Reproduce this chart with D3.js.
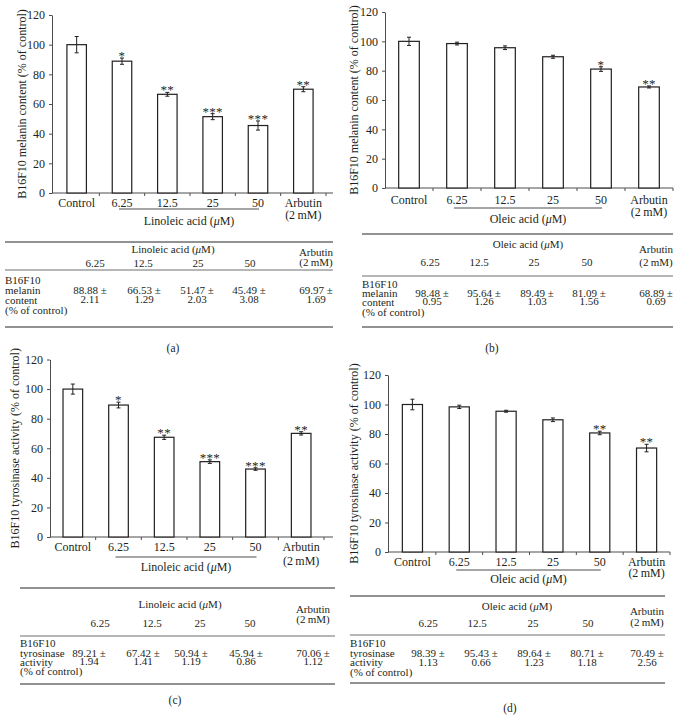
<!DOCTYPE html>
<html><head><meta charset="utf-8">
<script src="https://cdn.jsdelivr.net/npm/d3@7"></script>
<style>
html,body{margin:0;padding:0;background:#fff;}
svg text{font-family:"Liberation Serif","Times New Roman",serif;fill:#231f20;}
</style></head>
<body>
<svg id="fig" width="681" height="721"></svg>
<script>
// ---------------- DATA ----------------
const categories = ["Control", "6.25", "12.5", "25", "50", "Arbutin"];
const concLabels = ["6.25", "12.5", "25", "50"];
const yTicks = [0, 20, 40, 60, 80, 100, 120];

const melaninLinoleic    = [100, 88.88, 66.53, 51.47, 45.49, 69.97];
const melaninLinoleicErr = [5.5, 2.11, 1.29, 2.03, 3.08, 1.69];
const melaninLinoleicSig = ["", "*", "**", "***", "***", "**"];

const melaninOleic    = [100, 98.48, 95.64, 89.49, 81.09, 68.89];
const melaninOleicErr = [2.8, 0.95, 1.26, 1.03, 1.56, 0.69];
const melaninOleicSig = ["", "", "", "", "*", "**"];

const tyrosinaseLinoleic    = [100, 89.21, 67.42, 50.94, 45.94, 70.06];
const tyrosinaseLinoleicErr = [3.4, 1.94, 1.41, 1.19, 0.86, 1.12];
const tyrosinaseLinoleicSig = ["", "*", "**", "***", "***", "**"];

const tyrosinaseOleic    = [100, 98.39, 95.43, 89.64, 80.71, 70.49];
const tyrosinaseOleicErr = [3.6, 1.13, 0.66, 1.23, 1.18, 2.56];
const tyrosinaseOleicSig = ["", "", "", "", "**", "**"];

// ---------------- PANELS ----------------
const panels = [
  { caption: "(a)", acid: "Linoleic acid", yTitle: "B16F10 melanin content (% of control)",
    rowLabel: ["B16F10", "melanin", "content", "(% of control)"],
    values: melaninLinoleic, err: melaninLinoleicErr, sig: melaninLinoleicSig,
    L: { yAxisX: 52, x0: 54, x1: 326, axisEnd: 333, y0: 193, y120: 15, titleX: 22,
         lab: 10, lab2: 22, br: 16, grp: 28 },
    T: { lineX: [5, 333], top: 242, grp: 249, arb: 252, arb2: 262, hdr: 263, mid: 270,
         rows: [280, 290, 300, 310], vals: [290, 299], bot: 327, capX: 173, capY: 348,
         grpX: 173, hdrX: [95, 143, 198, 250], valX: [90, 144, 197, 249, 316], arbX: 316 } },
  { caption: "(b)", acid: "Oleic acid", yTitle: "B16F10 melanin content (% of control)",
    rowLabel: ["B16F10", "melanin", "content", "(% of control)"],
    values: melaninOleic, err: melaninOleicErr, sig: melaninOleicSig,
    L: { yAxisX: 385, x0: 385, x1: 673, axisEnd: 673, y0: 188, y120: 12, titleX: 354,
         lab: 12, lab2: 24, br: 20, grp: 31 },
    T: { lineX: [362, 673], top: 234, grp: 244, arb: 249, arb2: 262, hdr: 262, mid: 276,
         rows: [284, 293, 302, 312], vals: [293, 301], bot: 327, capX: 492, capY: 348,
         grpX: 528, hdrX: [430, 479, 534, 587], valX: [432, 484, 537, 589, 656], arbX: 656 } },
  { caption: "(c)", acid: "Linoleic acid", yTitle: "B16F10 tyrosinase activity (% of control)",
    rowLabel: ["B16F10", "tyrosinase", "activity", "(% of control)"],
    values: tyrosinaseLinoleic, err: tyrosinaseLinoleicErr, sig: tyrosinaseLinoleicSig,
    L: { yAxisX: 50, x0: 50, x1: 324, axisEnd: 333, y0: 537, y120: 359.5, titleX: 15,
         lab: 10, lab2: 24, br: 20, grp: 30 },
    T: { lineX: [20, 335], top: 588, grp: 604, arb: 609, arb2: 619, hdr: 623, mid: 636,
         rows: [643, 653, 662, 671], vals: [653, 661], bot: 684, capX: 175, capY: 700,
         grpX: 180, hdrX: [100, 152, 200, 250], valX: [89, 143, 191, 246, 313], arbX: 313 } },
  { caption: "(d)", acid: "Oleic acid", yTitle: "B16F10 tyrosinase activity (% of control)",
    rowLabel: ["B16F10", "tyrosinase", "activity", "(% of control)"],
    values: tyrosinaseOleic, err: tyrosinaseOleicErr, sig: tyrosinaseOleicSig,
    L: { yAxisX: 388, x0: 389, x1: 670, axisEnd: 670, y0: 552, y120: 375, titleX: 354,
         lab: 10, lab2: 21, br: 18, grp: 27 },
    T: { lineX: [350, 665], top: 596, grp: 606, arb: 611, arb2: 622, hdr: 623, mid: 635,
         rows: [643, 653, 662, 672], vals: [653, 662], bot: 683, capX: 510, capY: 708,
         grpX: 517, hdrX: [428, 477, 533, 588], valX: [428, 481, 534, 587, 647], arbX: 647 } }
];

const svg = d3.select("#fig");
const INK = "#231f20";
const AX = "#4d4d4d";
const RULE = "#6d6e71";
const AXFS = 12, TFS = 11;

function acidLabel(sel, acid) {
  sel.append("tspan").text(acid + " (");
  sel.append("tspan").attr("font-style", "italic").text("\u03bc");
  sel.append("tspan").text("M)");
}

panels.forEach(p => {
  const L = p.L, T = p.T;
  const g = svg.append("g");
  const x = d3.scaleBand().domain(categories).range([L.x0, L.x1]);
  const y = d3.scaleLinear().domain([0, 120]).range([L.y0, L.y120]);
  const bw = x.step() * 0.43;
  const cx = c => x(c) + x.bandwidth() / 2;

  // y axis
  const ya = g.append("g").attr("transform", `translate(${L.yAxisX},0)`)
    .call(d3.axisLeft(y).tickValues(yTicks).tickSize(3).tickSizeOuter(0).tickPadding(4));
  ya.select(".domain").attr("stroke", AX).attr("stroke-width", 1);
  ya.selectAll(".tick line").attr("stroke", AX);
  ya.selectAll("text").attr("font-family", "Liberation Serif").attr("font-size", AXFS).attr("fill", INK);

  // y title
  g.append("text")
    .attr("transform", `translate(${L.titleX},${(L.y0 + L.y120) / 2}) rotate(-90)`)
    .attr("text-anchor", "middle").attr("dy", "0.35em").attr("font-size", AXFS)
    .text(p.yTitle);

  // x axis line and ticks
  g.append("line").attr("x1", L.yAxisX).attr("x2", L.axisEnd)
    .attr("y1", y(0)).attr("y2", y(0)).attr("stroke", AX).attr("stroke-width", 1);
  const bounds = categories.slice(1).map(c => x(c)).concat([L.x1]);
  g.selectAll(".xt").data(bounds).enter().append("line")
    .attr("x1", d => d).attr("x2", d => d).attr("y1", y(0)).attr("y2", y(0) + 3)
    .attr("stroke", AX);

  // bars
  g.selectAll(".bar").data(categories).enter().append("rect")
    .attr("x", c => cx(c) - bw / 2)
    .attr("y", (c, i) => y(p.values[i]))
    .attr("width", bw)
    .attr("height", (c, i) => y(0) - y(p.values[i]))
    .attr("fill", "#fff").attr("stroke", INK).attr("stroke-width", 1.2);

  // error bars
  categories.forEach((c, i) => {
    const v = p.values[i], e = p.err[i], xc = cx(c);
    g.append("line").attr("x1", xc).attr("x2", xc).attr("y1", y(v - e)).attr("y2", y(v + e))
      .attr("stroke", INK).attr("stroke-width", 1);
    [v - e, v + e].forEach(t => {
      g.append("line").attr("x1", xc - 2).attr("x2", xc + 2).attr("y1", y(t)).attr("y2", y(t))
        .attr("stroke", INK).attr("stroke-width", 1);
    });
    if (p.sig[i]) {
      g.append("text").attr("x", xc).attr("y", y(v + e) + 2)
        .attr("text-anchor", "middle").attr("font-size", 13).attr("letter-spacing", 0.3)
        .text(p.sig[i]);
    }
  });

  // category labels
  categories.forEach((c, i) => {
    g.append("text").attr("x", cx(c)).attr("y", y(0) + L.lab).attr("dy", "0.35em")
      .attr("text-anchor", "middle").attr("font-size", AXFS).text(c);
  });
  g.append("text").attr("x", cx("Arbutin")).attr("y", y(0) + L.lab2).attr("dy", "0.35em")
    .attr("text-anchor", "middle").attr("font-size", AXFS).text("(2\u2009mM)");

  // bracket + group label
  const bx1 = cx(concLabels[0]) - 3, bx2 = cx(concLabels[concLabels.length - 1]) + 1;
  g.append("line").attr("x1", bx1).attr("x2", bx2)
    .attr("y1", y(0) + L.br).attr("y2", y(0) + L.br).attr("stroke", AX).attr("stroke-width", 1);
  acidLabel(g.append("text").attr("x", (bx1 + bx2) / 2).attr("y", y(0) + L.grp)
    .attr("dy", "0.35em").attr("text-anchor", "middle").attr("font-size", AXFS), p.acid);

  // ---------- table ----------
  const t = svg.append("g").attr("font-size", TFS);
  [[T.top, 1.6], [T.mid, 1], [T.bot, 1.6]].forEach(([yy, w]) => {
    t.append("line").attr("x1", T.lineX[0]).attr("x2", T.lineX[1]).attr("y1", yy).attr("y2", yy)
      .attr("stroke", RULE).attr("stroke-width", w);
  });
  acidLabel(t.append("text").attr("x", T.grpX).attr("y", T.grp).attr("dy", "0.35em")
    .attr("text-anchor", "middle").attr("font-size", TFS), p.acid);
  t.append("text").attr("x", T.arbX).attr("y", T.arb).attr("dy", "0.35em")
    .attr("text-anchor", "middle").attr("font-size", TFS).text("Arbutin");
  t.append("text").attr("x", T.arbX).attr("y", T.arb2).attr("dy", "0.35em")
    .attr("text-anchor", "middle").attr("font-size", TFS).text("(2\u2009mM)");
  concLabels.forEach((c, i) => {
    t.append("text").attr("x", T.hdrX[i]).attr("y", T.hdr).attr("dy", "0.35em")
      .attr("text-anchor", "middle").attr("font-size", TFS).text(c);
  });
  p.rowLabel.forEach((r, i) => {
    t.append("text").attr("x", T.lineX[0]).attr("y", T.rows[i]).attr("dy", "0.35em")
      .attr("font-size", TFS).text(r);
  });
  for (let i = 1; i < categories.length; i++) {
    const xx = T.valX[i - 1];
    t.append("text").attr("x", xx).attr("y", T.vals[0]).attr("dy", "0.35em")
      .attr("text-anchor", "middle").attr("font-size", TFS).text(p.values[i].toFixed(2) + " \u00b1");
    t.append("text").attr("x", xx).attr("y", T.vals[1]).attr("dy", "0.35em")
      .attr("text-anchor", "middle").attr("font-size", TFS).text(p.err[i].toFixed(2));
  }
  t.append("text").attr("x", T.capX).attr("y", T.capY).attr("dy", "0.35em")
    .attr("text-anchor", "middle").attr("font-size", 11.5).text(p.caption);
});
</script>
</body></html>
